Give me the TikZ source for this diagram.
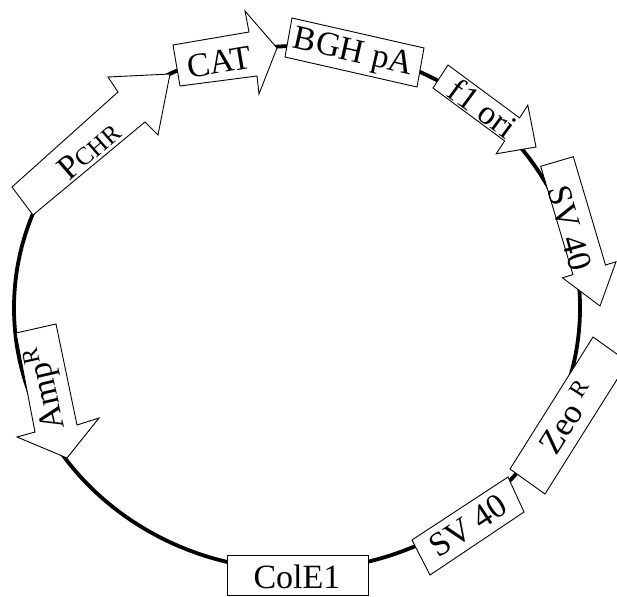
\documentclass[tikz,border=0pt]{standalone}
\usepackage{fontspec}
\setmainfont{Liberation Serif}
\begin{document}
\begin{tikzpicture}[x=1pt,y=-1pt,
  feat/.style={draw=black, fill=white, line width=0.9pt, line join=miter},
  lbl/.style={font=\fontsize{34}{34}\selectfont, inner sep=0pt},
  backbone/.style={line width=3.8pt}]
\useasboundingbox (0,0) rectangle (617,596);
% plasmid backbone
\draw[backbone] (297,308) ellipse [x radius=283pt, y radius=262pt];
% PCHR arrow
\draw[feat] (12,187) -- (118,92) -- (108,77) -- (170,74) -- (158,135) -- (145,122) -- (33,215) -- cycle;
\node[lbl, rotate=41] (pchr) at (89,150) {P{\fontsize{25}{25}\selectfont CHR}};
% CAT arrow
\draw[feat] (173,45) -- (249,32) -- (245,11) -- (277,48) -- (259,94) -- (257,76) -- (180,86) -- cycle;
\node[lbl, rotate=9.7] (cat) at (219,62) {CAT};
% BGH pA box
\draw[feat] (292,18) -- (424,48) -- (417,87) -- (285,57) -- cycle;
\node[lbl, rotate=-12.8] (bgh) at (353,54) {BGH pA};
% f1 ori arrow
\draw[feat] (448,65) -- (519.6,117.9) -- (527.8,105.2) -- (536,147) -- (496.2,153.8) -- (504.6,140.9) -- (433,88) -- cycle;
\node[lbl, rotate=-36.4] (f1) at (483,108) {f1 ori};
% SV40 arrow (upper)
\draw[feat] (540.7,166.3) -- (573.3,156.7) -- (605.5,265) -- (616,261.8) -- (600,306) -- (562.4,277.8) -- (572.9,274.6) -- cycle;
\node[lbl, rotate=-74] (sva) at (570,228) {SV 40};
% Zeo R box
\draw[feat] (593,337) -- (628,362) -- (545,494) -- (510,469) -- cycle;
\node[lbl, rotate=57.8] (zeo) at (567,417) {Zeo~\textsuperscript{R}};
% SV40 box (lower)
\draw[feat] (412,540) -- (508,477) -- (524,512) -- (430,575) -- cycle;
\node[lbl, rotate=33.5] (svb) at (468,526) {SV 40};
% ColE1 box
\draw[feat] (227,555) rectangle (368,595);
\node[lbl] (cole) at (297,577) {ColE1};
% AmpR arrow
\draw[feat] (16,333) -- (56,324) -- (77,425) -- (99,418) -- (67,458) -- (17,437) -- (35,432) -- cycle;
\node[lbl, rotate=103] (amp) at (47,388) {Amp\textsuperscript{R}};
\end{tikzpicture}
\end{document}
